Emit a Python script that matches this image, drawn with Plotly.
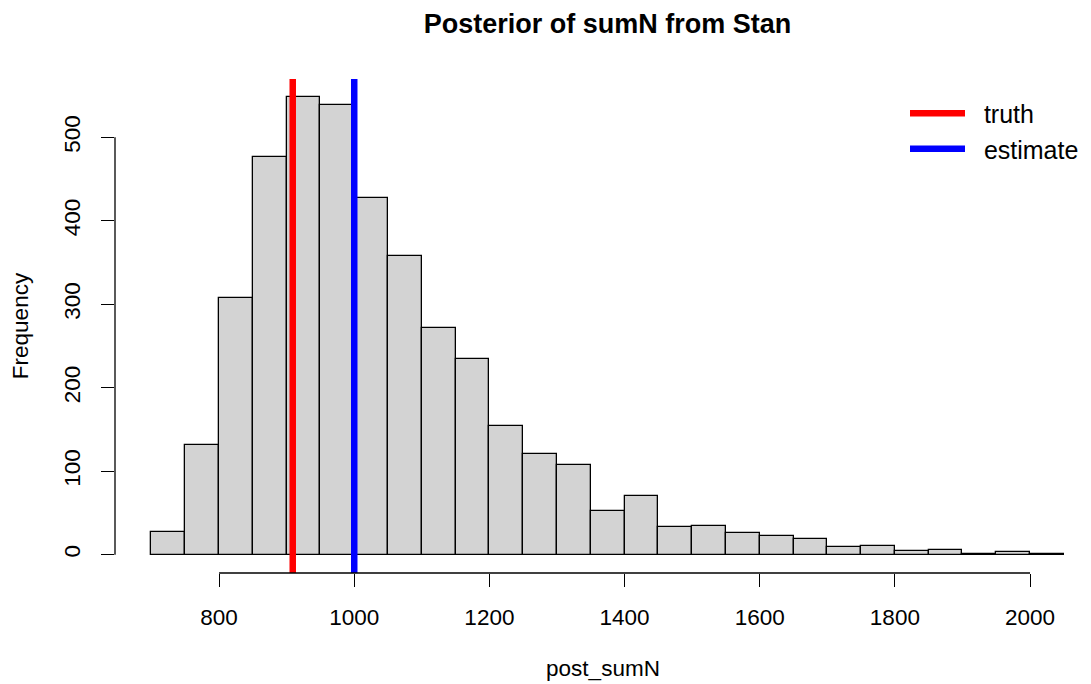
import plotly.graph_objects as go

# ---- data ----
bin_starts = [700, 750, 800, 850, 900, 950, 1000, 1050, 1100, 1150, 1200, 1250, 1300, 1350,
              1400, 1450, 1500, 1550, 1600, 1650, 1700, 1750, 1800, 1850, 1900, 1950, 2000]
bin_width = 50
counts = [27, 131, 307, 477, 548, 539, 427, 358, 272, 235, 154, 121, 108, 52,
          70, 33, 35, 26, 22, 19, 9, 11, 4, 6, 1, 3, 1]
truth = 909
estimate = 1000
x_ticks = [800, 1000, 1200, 1400, 1600, 1800, 2000]
y_ticks = [0, 100, 200, 300, 400, 500]
legend_names = ["truth", "estimate"]

FONT = "Liberation Sans, Arial, sans-serif"
NBSP = "\u00a0"

fig = go.Figure()
fig.add_trace(go.Bar(
    x=[b + bin_width / 2 for b in bin_starts], y=counts, width=bin_width,
    marker=dict(color="#D3D3D3", line=dict(color="black", width=1.3)),
    showlegend=False, hoverinfo="skip"))

for val, col, name in [(truth, "red", legend_names[0]), (estimate, "blue", legend_names[1])]:
    fig.add_vline(x=val, line=dict(color=col, width=6.5))
    fig.add_trace(go.Scatter(x=[None], y=[None], mode="lines", name=NBSP * 2 + name,
                             line=dict(color=col, width=6.5)))

fig.add_shape(type="line", xref="x", yref="paper", x0=min(x_ticks), x1=max(x_ticks),
              y0=0, y1=0, line=dict(color="black", width=1.3))
fig.add_shape(type="line", xref="paper", yref="y", x0=0, x1=0,
              y0=min(y_ticks), y1=max(y_ticks), line=dict(color="black", width=1.3))

fig.update_layout(
    width=1091, height=684,
    margin=dict(l=115, r=0, t=79, b=111, autoexpand=False),
    paper_bgcolor="white", plot_bgcolor="white",
    font=dict(family=FONT, size=22.5, color="black"),
    title=dict(text="<b>Posterior of sumN from Stan</b>", x=607.5 / 1091, xref="container",
               xanchor="center", y=1 - 23.5 / 684, yref="container", yanchor="middle",
               font=dict(size=27, family=FONT, color="black")),
    bargap=0,
    xaxis=dict(range=[646, 2090.2], tickvals=x_ticks, ticks="outside", ticklen=13,
               tickwidth=1.3, tickcolor="black", showline=False, showgrid=False,
               zeroline=False, tickfont=dict(size=22.5), ticklabelstandoff=11,
               title=dict(text="post_sumN", standoff=31, font=dict(size=22.5))),
    yaxis=dict(range=[-21.9, 569.9], tickvals=y_ticks, ticks="outside", ticklen=13,
               tickwidth=1.3, tickcolor="black", showline=False, showgrid=False,
               zeroline=False, tickangle=-90, tickfont=dict(size=22.5), ticklabelstandoff=12,
               title=dict(text="Frequency", standoff=25, font=dict(size=22.5))),
    legend=dict(x=(905 - 115) / 976, y=1 - (90.5 - 79) / 494, xanchor="left", yanchor="top",
                bgcolor="rgba(0,0,0,0)", borderwidth=0, font=dict(size=25),
                itemwidth=55),
)

fig.write_html("out.html")
